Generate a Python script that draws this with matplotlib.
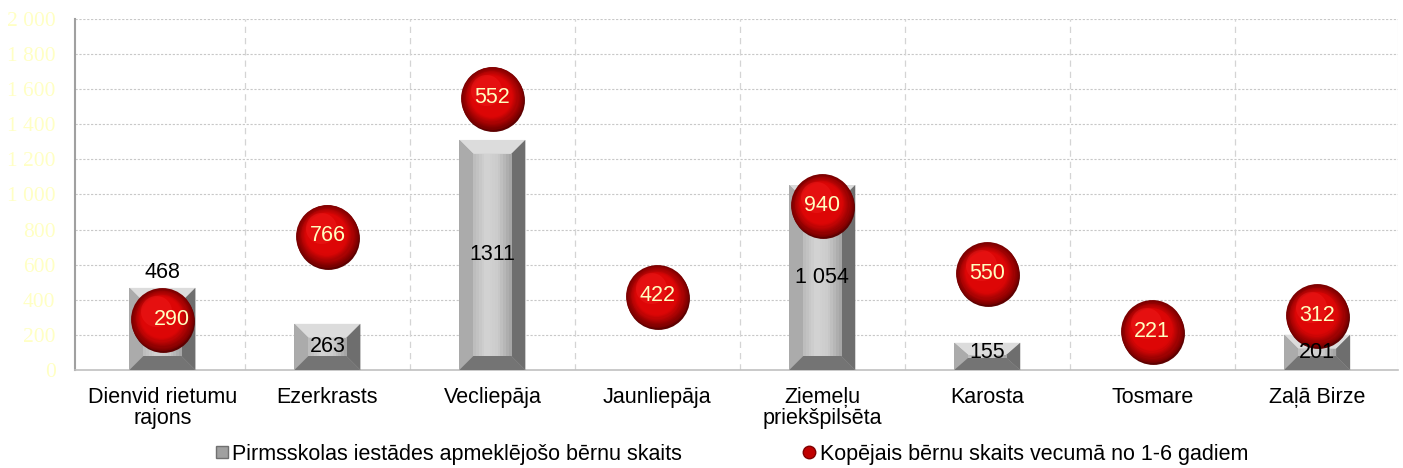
import matplotlib
matplotlib.use("Agg")
import matplotlib.pyplot as plt
import numpy as np
from matplotlib.patches import Polygon, Rectangle
from matplotlib.lines import Line2D
from matplotlib.transforms import ScaledTranslation
import matplotlib.colors as mcolors

categories = ["Dienvid rietumu\nrajons", "Ezerkrasts", "Vecliepāja", "Jaunliepāja",
              "Ziemeļu\npriekšpilsēta", "Karosta", "Tosmare", "Zaļā Birze"]
bar_values = [468, 263, 1311, 0, 1054, 155, 0, 201]
bar_labels = ["468", "263", "1311", "", "1 054", "155", "", "201"]
bubble_values = [290, 766, 1552, 422, 940, 550, 221, 312]
bubble_labels = ["290", "766", "552", "422", "940", "550", "221", "312"]
yticks = [0, 200, 400, 600, 800, 1000, 1200, 1400, 1600, 1800, 2000]
legend_labels = ["Pirmsskolas iestādes apmeklējošo bērnu skaits",
                 "Kopējais bērnu skaits vecumā no 1-6 gadiem"]

plt.rcParams['font.family'] = ['Liberation Sans', 'DejaVu Sans']
FS = 15.5

fig = plt.figure(figsize=(14.03, 4.68), dpi=100)
ax = fig.add_axes([75/1403, 1-370/468, (1398-75)/1403, (370-19)/468])
ax.set_xlim(-0.53, 7.49)
ax.set_ylim(0, 2000)

x = np.arange(len(categories))
width = 0.40

# grid
for yt in yticks[1:]:
    ax.axhline(yt, color="#c8c8c8", lw=0.8, ls=(0, (2, 1.5)), zorder=0)
for xb in x[:-1] + 0.5:
    ax.axvline(xb, color="#d4d4d4", lw=0.9, ls=(0, (5, 4)), zorder=0)

# bars with bevel
bars = ax.bar(x, bar_values, width=width, color="#a8a8a8", zorder=2, linewidth=0)
px_per_unit_y = (370-19)/2000.0
bev_x = 0.085
cmap = mcolors.LinearSegmentedColormap.from_list(
    "g", ["#bdbdbd", "#d4d4d4", "#cacaca", "#a6a6a6"])
for xi, v in zip(x, bar_values):
    if v <= 0:
        continue
    by = min(14/px_per_unit_y, v*0.45)
    l, r = xi - width/2, xi + width/2
    il, ir = l + bev_x, r - bev_x
    top, itop, ibot = v, v - by, by
    ax.add_patch(Polygon([(l, top), (r, top), (ir, itop), (il, itop)], closed=True,
                         color="#dcdcdc", lw=0, zorder=3))
    ax.add_patch(Polygon([(l, top), (il, itop), (il, ibot), (l, 0)], closed=True,
                         color="#ababab", lw=0, zorder=3))
    ax.add_patch(Polygon([(r, top), (ir, itop), (ir, ibot), (r, 0)], closed=True,
                         color="#6e6e6e", lw=0, zorder=3))
    ax.add_patch(Polygon([(l, 0), (il, ibot), (ir, ibot), (r, 0)], closed=True,
                         color="#747474", lw=0, zorder=3))
    n = 14
    for k in range(n):
        ax.add_patch(Rectangle((il + (ir-il)*k/n, ibot), (ir-il)/n + 0.002, itop-ibot,
                               color=cmap(k/(n-1)), lw=0, zorder=3))

# bar labels
for xi, v, lab in zip(x, bar_values, bar_labels):
    if not lab:
        continue
    if xi == 0:
        ax.text(xi, v + 30, lab, ha="center", va="bottom", fontsize=FS, color="black", zorder=6)
    else:
        ax.text(xi, v/2 if v > 200 else v/2 + 25, lab, ha="center", va="center",
                fontsize=FS, color="black", zorder=6)

# bubbles (sphere effect)
base_s = 2050
dt = fig.dpi_scale_trans
ax.scatter(x, bubble_values, s=base_s, color="#5e0000", zorder=4, linewidths=0,
           transform=ax.transData + ScaledTranslation(0.01, -0.02, dt))
steps = 16
c0 = np.array(mcolors.to_rgb("#7a0000"))
c1 = np.array(mcolors.to_rgb("#dd0606"))
for k in range(steps):
    f = k / (steps - 1)
    s = base_s * (1 - 0.6 * f) ** 2
    col = c0 + (c1 - c0) * min(1, f * 1.8)
    off = ScaledTranslation(-0.03 * f, 0.035 * f, dt)
    ax.scatter(x, bubble_values, s=s, color=col, zorder=4, linewidths=0,
               transform=ax.transData + off)
ax.scatter(x, bubble_values, s=500, color="#ff3030", alpha=0.25, zorder=4, linewidths=0,
           transform=ax.transData + ScaledTranslation(-0.06, 0.08, dt))

for xi, v, lab in zip(x, bubble_values, bubble_labels):
    dx = 0.06 if xi == 0 else 0.0
    ax.text(xi + dx, v, lab, ha="center", va="center", fontsize=FS, color="#ffffc0", zorder=7)

# axes styling
ax.set_xticks(x)
ax.set_xticklabels(categories, fontsize=FS, color="black", linespacing=1.05)
ax.set_yticks(yticks)
ax.set_yticklabels([f"{t:,}".replace(",", " ") for t in yticks],
                   fontsize=15.5, color="#ffffc4", family="Liberation Serif")
ax.tick_params(axis="x", length=0, pad=12)
ax.tick_params(axis="y", length=0, pad=14)
for s in ["top", "right"]:
    ax.spines[s].set_visible(False)
ax.spines["left"].set_color("#a0a0a0")
ax.spines["left"].set_linewidth(1.5)
ax.spines["bottom"].set_color("#c0c0c0")
ax.spines["bottom"].set_linewidth(1.2)
ax.axvline(7.49, color="#e0e0e0", lw=0.8, zorder=0)

handles = [Line2D([], [], marker="s", ls="", markersize=8, markerfacecolor="#a0a0a0",
                  markeredgecolor="#707070"),
           Line2D([], [], marker="o", ls="", markersize=9, markerfacecolor="#c00000",
                  markeredgecolor="#800000")]
fig.legend(handles, legend_labels, loc="lower center", ncol=2, frameon=False,
           bbox_to_anchor=(0.52, -0.034), fontsize=FS, handletextpad=0.0,
           columnspacing=5.4, handlelength=1.0)

fig.savefig("out.png", dpi=100)
